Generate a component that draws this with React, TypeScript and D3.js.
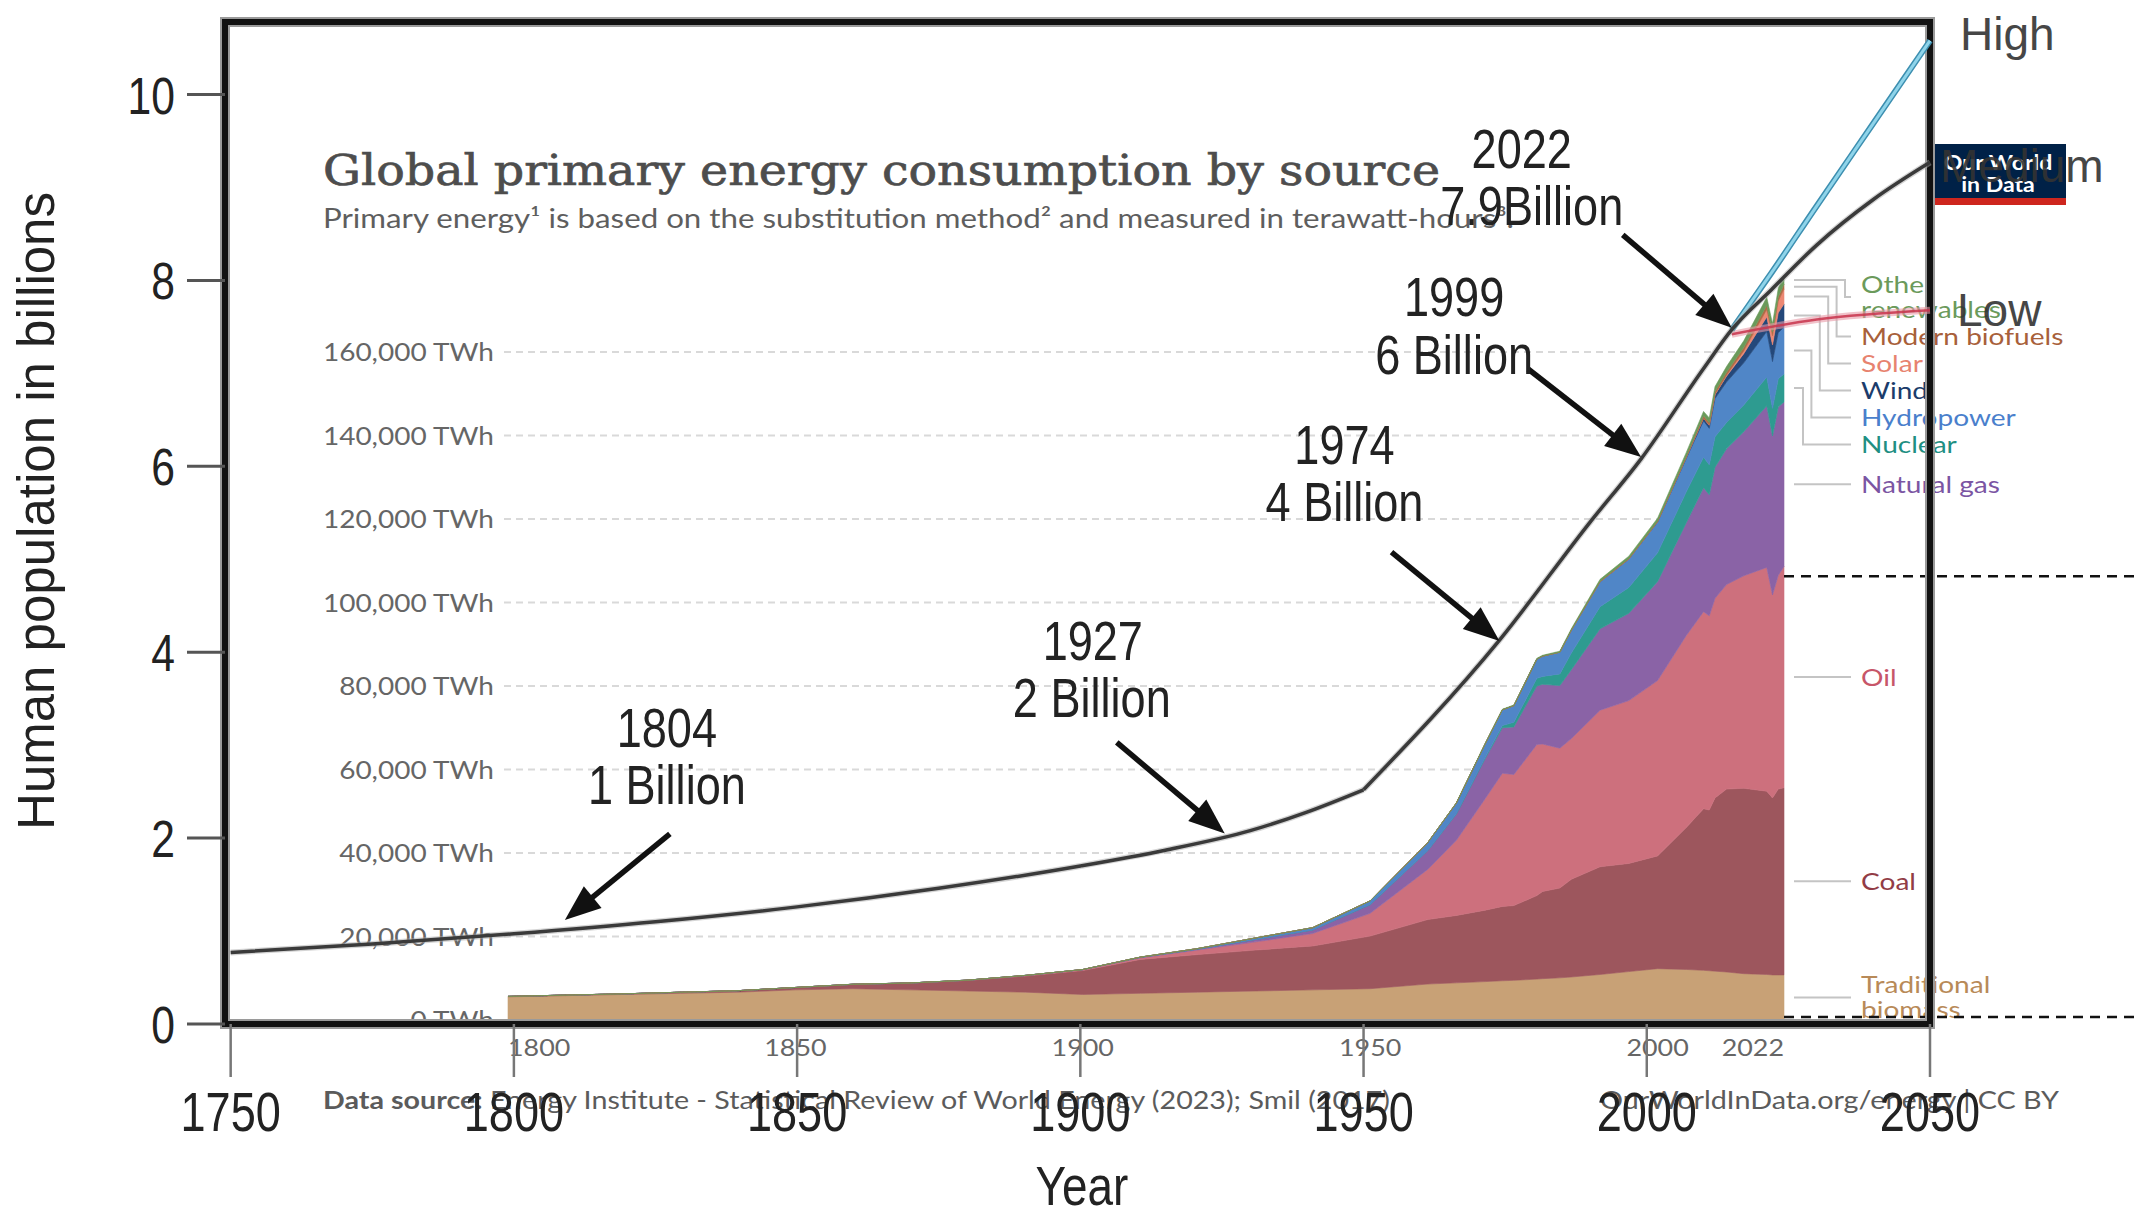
import * as d3 from "d3";

// ---------- population (outer chart) ----------
const popYears = [1750, 1775, 1800, 1825, 1850, 1875, 1900, 1915, 1930, 1940, 1950, 1974, 1990, 1999, 2010, 2015, 2022];
const popValues = [0.77, 0.86, 0.97, 1.1, 1.26, 1.46, 1.7, 1.87, 2.08, 2.28, 2.52, 4.13, 5.4, 6.08, 7.05, 7.47, 7.9];
const mediumYears = [2022, 2030, 2040, 2050];
const mediumValues = [7.9, 8.38, 8.87, 9.27];
const highYears = [2015, 2022, 2030, 2040, 2050];
const highValues = [7.47, 8.08, 8.8, 9.69, 10.58];
const lowYears = [2015, 2030, 2050];
const lowValues = [7.42, 7.58, 7.68];

const popYTicks = [0, 2, 4, 6, 8, 10];
const popXTicks = [1750, 1800, 1850, 1900, 1950, 2000, 2050];

const annYears = ["1804", "1927", "1974", "1999", "2022"];
const annLabels = ["1 Billion", "2 Billion", "4 Billion", "6 Billion", "7.9Billion"];
const annTipYear = [1809, 1925.5, 1974, 1999, 2015];
const annTipValue = [1.12, 2.05, 4.12, 6.1, 7.49];

const scenarioNames = ["High", "Medium", "Low"];

// ---------- energy (inner OWID chart), TWh ----------
const eYears = [1800, 1810, 1820, 1830, 1840, 1850, 1860, 1870, 1880, 1890, 1900, 1910, 1920, 1930, 1940, 1950, 1960, 1965, 1970, 1973, 1975, 1979, 1980, 1983, 1985, 1990, 1995, 2000, 2005, 2008, 2009, 2010, 2012, 2015, 2019, 2020, 2021, 2022];
const biomass = [5556, 5833, 6111, 6389, 6667, 7222, 7500, 7222, 6944, 6667, 6111, 6389, 6667, 6944, 7222, 7500, 8611, 8900, 9200, 9400, 9500, 9800, 9900, 10100, 10300, 10900, 11600, 12300, 12100, 11900, 11800, 11700, 11500, 11100, 10900, 10800, 10800, 10800];
const coal = [97, 128, 153, 264, 356, 569, 1061, 1642, 2542, 3856, 5728, 8106, 9000, 9800, 10500, 12603, 15442, 16140, 17100, 17800, 17900, 20000, 20900, 21500, 23400, 25800, 25900, 27000, 34000, 38700, 38500, 41500, 43800, 44400, 43900, 42400, 44500, 44850];
const oil = [0, 0, 0, 0, 0, 0, 0, 6, 33, 89, 181, 369, 1097, 1972, 3000, 5444, 12000, 18000, 26700, 31900, 31400, 36200, 35300, 33500, 33700, 37500, 39000, 42000, 46000, 47200, 46500, 47800, 49000, 50900, 53600, 48600, 51200, 53000];
const gas = [0, 0, 0, 0, 0, 0, 0, 0, 33, 67, 64, 156, 233, 578, 847, 2092, 4500, 6300, 9600, 10900, 11400, 14000, 14300, 15000, 16500, 19500, 20900, 23700, 27000, 29700, 29000, 31400, 32500, 34500, 38700, 38100, 40300, 39400];
const nuclear = [0, 0, 0, 0, 0, 0, 0, 0, 0, 0, 0, 0, 0, 0, 0, 0, 0, 70, 220, 560, 1100, 1850, 1900, 2800, 4000, 5300, 6200, 6900, 7400, 7300, 7200, 7300, 6300, 6400, 6900, 6600, 6800, 6700];
const hydro = [0, 0, 0, 0, 0, 0, 0, 0, 0, 0, 10, 40, 120, 350, 550, 900, 1900, 2556, 3300, 3750, 4000, 4600, 4860, 5200, 5450, 5970, 6800, 7360, 8000, 8700, 8700, 9150, 9700, 10100, 10900, 11200, 11000, 11250];
const wind = [0, 0, 0, 0, 0, 0, 0, 0, 0, 0, 0, 0, 0, 0, 0, 0, 0, 0, 0, 0, 0, 0, 0, 0, 0, 10, 30, 85, 280, 620, 760, 930, 1400, 2200, 3500, 4000, 4800, 5500];
const solar = [0, 0, 0, 0, 0, 0, 0, 0, 0, 0, 0, 0, 0, 0, 0, 0, 0, 0, 0, 0, 0, 0, 0, 0, 0, 0, 0, 3, 10, 35, 55, 85, 260, 660, 1800, 2200, 2800, 3600];
const biofuels = [0, 0, 0, 0, 0, 0, 0, 0, 0, 0, 0, 0, 0, 0, 0, 0, 0, 0, 0, 0, 0, 0, 0, 0, 60, 110, 120, 130, 260, 560, 600, 650, 700, 820, 1000, 930, 1000, 1100];
const otherRenew = [0, 0, 0, 0, 0, 0, 0, 0, 0, 0, 0, 0, 0, 0, 0, 0, 0, 90, 110, 130, 150, 190, 200, 250, 300, 450, 550, 700, 900, 1050, 1100, 1200, 1350, 1600, 1900, 1950, 2050, 2100];

const sourceValues = [biomass, coal, oil, gas, nuclear, hydro, wind, solar, biofuels, otherRenew];
const sourceKeys = ["biomass", "coal", "oil", "gas", "nuclear", "hydro", "wind", "solar", "biofuels", "other"];
const sourceLabels = [["Traditional", "biomass"], ["Coal"], ["Oil"], ["Natural gas"], ["Nuclear"], ["Hydropower"], ["Wind"], ["Solar"], ["Modern biofuels"], ["Other", "renewables"]];
const sourceColors = ["#C8A176", "#9D565D", "#CD707D", "#8A63A6", "#2E9B90", "#5086C7", "#24487A", "#EC8873", "#B06B45", "#6A9A5A"];
const labelColors = ["#B88A58", "#923C46", "#C75669", "#7B55A3", "#1F8F83", "#4A7FCC", "#1B3C6B", "#E7836F", "#A8603A", "#6B9A5B"];

const eYTicks = [0, 20000, 40000, 60000, 80000, 100000, 120000, 140000, 160000];
const eXTicks = [1800, 1850, 1900, 1950, 2000, 2022];
const refLineValues = [106300, 700];

// ---------- scales ----------
const W = 2135;
const H = 1217;
const xPop = d3.scaleLinear().domain([1749, 2050]).range([225, 1930]);
const yPop = d3.scaleLinear().domain([0, 10.78]).range([1024, 22]);
const xE = d3.scaleLinear().domain([1800, 2022]).range([508, 1784]);
const yE = d3.scaleLinear().domain([0, 160000]).range([1020, 352]);

const SANS = "'Liberation Sans', Arial, sans-serif";
const LATO = "Lato, 'Open Sans', sans-serif";

function SText({ x, y, sx, family, size, fill, anchor = "start", weight = 400, children }: any) {
  return (
    <text
      transform={`translate(${x},${y}) scale(${sx},1)`}
      textAnchor={anchor}
      fontFamily={family}
      fontSize={size}
      fontWeight={weight}
      fill={fill}
    >
      {children}
    </text>
  );
}

const NARROW = 0.82;
const WIDE = 1.17;

export default function App() {
  const rows = eYears.map((yr, i) => {
    const r: any = { year: yr };
    sourceKeys.forEach((k, j) => (r[k] = sourceValues[j][i]));
    return r;
  });
  const series = d3.stack<any>().keys(sourceKeys)(rows);
  const area = d3
    .area<any>()
    .x((d) => xE(d.data.year))
    .y0((d) => yE(d[0]))
    .y1((d) => yE(d[1]));

  // label placement on the right (top-down, avoiding overlap)
  const last = eYears.length - 1;
  const labels = series.map((s, i) => ({
    lines: sourceLabels[i],
    color: labelColors[i],
    mid: yE((s[last][0] + s[last][1]) / 2),
    y: 0,
  }));
  const ordered = [...labels].reverse();
  let prevBottom = -Infinity;
  ordered.forEach((l, j) => {
    const half = l.lines.length === 2 ? 26 : 13.5;
    let c = Math.max(l.mid, prevBottom + half);
    if (j === 0) c = Math.max(c, 297);
    l.y = c;
    prevBottom = c + half;
  });
  let elbowCount = 0;
  const labelX = 1861;

  const smoothLine = d3
    .line<[number, number]>()
    .x((d) => xPop(d[0]))
    .y((d) => yPop(d[1]))
    .curve(d3.curveMonotoneX);
  const histPts: [number, number][] = popYears.map((y, i) => [y, popValues[i]]);
  const medPts: [number, number][] = mediumYears.map((y, i) => [y, mediumValues[i]]);
  const highPts: [number, number][] = highYears.map((y, i) => [y, highValues[i]]);
  const lowPts: [number, number][] = lowYears.map((y, i) => [y, lowValues[i]]);
  const kink = popYears.indexOf(1950);
  const earlyPath = smoothLine(histPts.slice(0, kink + 1)) || "";
  const latePath = smoothLine(histPts.slice(kink).concat(medPts.slice(1))) || "";

  const annLayout = [
    { tail: [105, -86], t1: [102, -193], t2: [102, -136] },
    { tail: [-108, -91], t1: [-132, -193], t2: [-133, -136] },
    { tail: [-108, -89], t1: [-155, -197], t2: [-155, -140] },
    { tail: [-113, -88], t1: [-187, -161], t2: [-187, -103] },
    { tail: [-109, -93], t1: [-210, -180], t2: [-200, -123] },
  ];

  const scenarioEnds = [highValues[highValues.length - 1], mediumValues[mediumValues.length - 1], lowValues[lowValues.length - 1]];
  const scenarioDy = [9, 20, 16];
  const scenarioDx = [30, 10, 27];

  return (
    <svg width={W} height={H} style={{ position: "absolute", left: 0, top: 0, background: "#fff" }}>
      <rect width={W} height={H} fill="#fff" />

      {/* ---------- OWID energy chart ---------- */}
      <text
        x={323}
        y={185}
        fontFamily="'DejaVu Serif', serif"
        fontSize={42}
        fill="#4d4d4d"
        stroke="#4d4d4d"
        strokeWidth={0.7}
        textLength={1117}
        lengthAdjust="spacingAndGlyphs"
      >
        Global primary energy consumption by source
      </text>
      <text x={323} y={228} fontFamily={LATO} fontSize={26} fill="#5e5e5e" textLength={1191} lengthAdjust="spacingAndGlyphs">
        Primary energy¹ is based on the substitution method² and measured in terawatt-hours³.
      </text>

      {eYTicks.map((t) => (
        <g key={t}>
          {t > 0 && (
            <line x1={504} x2={xE(2022)} y1={yE(t)} y2={yE(t)} stroke="#d9d9d9" strokeWidth={2} strokeDasharray="7,5" />
          )}
          <SText x={494} y={yE(t) + 9} sx={1.12} family={LATO} size={25} fill="#666" anchor="end">
            {`${d3.format(",")(t)} TWh`}
          </SText>
        </g>
      ))}

      {series.map((s, i) => (
        <path key={s.key} d={area(s) || ""} fill={sourceColors[i]} stroke={sourceColors[i]} strokeWidth={0.6} />
      ))}

      {eXTicks.map((t, i) => (
        <SText
          key={t}
          x={xE(t)}
          y={1056}
          sx={1.12}
          family={LATO}
          size={24}
          fill="#666"
          anchor={i === 0 ? "start" : i === eXTicks.length - 1 ? "end" : "middle"}
        >
          {t}
        </SText>
      ))}

      {ordered.map((l, j) => {
        const x0 = xE(2022) + 10;
        const x1 = labelX - 10;
        let d: string;
        if (Math.abs(l.y - l.mid) < 2) {
          d = `M${x0},${l.mid}H${x1}`;
        } else {
          const ex = 1845 - elbowCount * 8.4;
          elbowCount += 1;
          d = `M${x0},${l.mid}H${ex}V${l.y}H${x1}`;
        }
        const lineGap = 25;
        return (
          <g key={j}>
            <path d={d} fill="none" stroke="#c4c4c4" strokeWidth={2} />
            {l.lines.map((ln, k) => (
              <SText
                key={k}
                x={labelX}
                y={l.y + 8.5 + (l.lines.length === 2 ? (k === 0 ? -lineGap / 2 : lineGap / 2) : 0)}
                sx={WIDE}
                family={LATO}
                size={24}
                fill={l.color}
              >
                {ln}
              </SText>
            ))}
          </g>
        );
      })}

      <text x={323} y={1109} fontFamily={LATO} fontSize={25} fill="#5b5b5b" textLength={1067} lengthAdjust="spacingAndGlyphs">
        <tspan fontWeight={700}>Data source:</tspan> Energy Institute - Statistical Review of World Energy (2023); Smil (2017)
      </text>
      <text x={1600} y={1109} fontFamily={LATO} fontSize={25} fill="#5b5b5b" textLength={459} lengthAdjust="spacingAndGlyphs">
        OurWorldInData.org/energy | CC BY
      </text>

      {/* OWID logo */}
      <rect x={1931} y={144} width={135} height={60} fill="#002147" />
      <rect x={1931} y={198} width={135} height={7} fill="#CE261E" />
      <SText x={1998} y={170} sx={1.1} family={LATO} size={21} fill="#fff" weight={700} anchor="middle">
        Our World
      </SText>
      <SText x={1998} y={192} sx={1.1} family={LATO} size={21} fill="#fff" weight={700} anchor="middle">
        in Data
      </SText>

      {refLineValues.map((v) => (
        <line key={v} x1={xE(2022)} x2={W} y1={yE(v)} y2={yE(v)} stroke="#111" strokeWidth={2.5} strokeDasharray="10,7" />
      ))}

      {/* ---------- population chart ---------- */}
      <rect x={225} y={22} width={1705} height={1002} fill="none" stroke="#9a9a9a" strokeWidth={10} />
      <rect x={225} y={22} width={1705} height={1002} fill="none" stroke="#111" strokeWidth={6} />

      {popYTicks.map((t) => (
        <g key={t}>
          <line x1={187} x2={225} y1={yPop(t)} y2={yPop(t)} stroke="#555" strokeWidth={3} />
          <SText x={175} y={yPop(t) + 19} sx={NARROW} family={SANS} size={52} fill="#222" anchor="end">
            {t}
          </SText>
        </g>
      ))}
      {popXTicks.map((t) => (
        <g key={t}>
          <line x1={xPop(t)} x2={xPop(t)} y1={1024} y2={1077} stroke="#777" strokeWidth={2.5} />
          <SText x={xPop(t)} y={1131} sx={NARROW} family={SANS} size={55} fill="#222" anchor="middle">
            {t}
          </SText>
        </g>
      ))}

      <SText x={1082} y={1205} sx={NARROW} family={SANS} size={56} fill="#222" anchor="middle">
        Year
      </SText>
      <text transform="translate(54,511) rotate(-90)" textAnchor="middle" fontFamily={SANS} fontSize={51} fill="#222">
        Human population in billions
      </text>

      {/* projections */}
      <path d={smoothLine(lowPts) || ""} fill="none" stroke="#e79aa6" strokeWidth={7} opacity={0.6} />
      <path d={smoothLine(lowPts) || ""} fill="none" stroke="#c8344c" strokeWidth={2.5} opacity={0.85} />
      <path d={smoothLine(highPts) || ""} fill="none" stroke="#3d8fb0" strokeWidth={6} />
      <path d={smoothLine(highPts) || ""} fill="none" stroke="#8fd4ea" strokeWidth={3} />
      {[earlyPath, latePath].map((p, i) => (
        <g key={i}>
          <path d={p} fill="none" stroke="#aaa" strokeWidth={6} opacity={0.5} />
          <path d={p} fill="none" stroke="#3a3a3a" strokeWidth={3.5} />
        </g>
      ))}

      {scenarioNames.map((n, i) => (
        <text key={n} x={xPop(2050) + scenarioDx[i]} y={yPop(scenarioEnds[i]) + scenarioDy[i]} fontFamily={SANS} fontSize={46} fill="#333" opacity={0.9}>
          {n}
        </text>
      ))}

      {/* annotations */}
      {annYears.map((yr, i) => {
        const tx = xPop(annTipYear[i]);
        const ty = yPop(annTipValue[i]);
        const L = annLayout[i];
        const sx = tx + L.tail[0];
        const sy = ty + L.tail[1];
        const len = Math.hypot(tx - sx, ty - sy);
        const ux = (tx - sx) / len;
        const uy = (ty - sy) / len;
        const hl = 36;
        const hw = 14;
        const bx = tx - ux * hl;
        const by = ty - uy * hl;
        const head = `M${tx},${ty}L${bx - uy * hw},${by + ux * hw}L${bx + uy * hw},${by - ux * hw}Z`;
        return (
          <g key={yr}>
            <line x1={sx} y1={sy} x2={bx + ux * 6} y2={by + uy * 6} stroke="#111" strokeWidth={5.5} />
            <path d={head} fill="#111" />
            <SText x={tx + L.t1[0]} y={ty + L.t1[1] + 20} sx={NARROW} family={SANS} size={55} fill="#222" anchor="middle">
              {yr}
            </SText>
            <SText x={tx + L.t2[0]} y={ty + L.t2[1] + 20} sx={NARROW} family={SANS} size={55} fill="#222" anchor="middle">
              {annLabels[i]}
            </SText>
          </g>
        );
      })}
    </svg>
  );
}
